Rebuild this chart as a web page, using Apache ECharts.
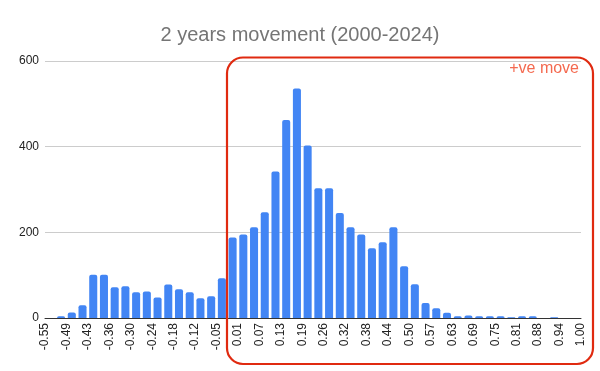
<!DOCTYPE html>
<html>
<head>
<meta charset="utf-8">
<script src="https://cdn.jsdelivr.net/npm/echarts@6/dist/echarts.min.js"></script>
<style>html,body{margin:0;padding:0;background:#fff}#c{width:600px;height:371px}</style>
</head>
<body>
<div id="c"></div>
<script>
// Histogram bin counts (50 bins from -0.55 to 1.00)
const binCounts = [0, 4, 13, 30, 101, 101, 72, 74, 60, 62,
  48, 78, 67, 60, 46, 51, 93, 188, 195, 212,
  247, 342, 462, 536, 403, 303, 303, 245, 212, 195,
  163, 177, 212, 121, 79, 35, 23, 12, 4, 6,
  4, 4, 4, 2, 4, 4, 0, 2, 0, 0];
// Tick labels at every second bin boundary
const tickLabels = ['-0.55','-0.49','-0.43','-0.36','-0.30','-0.24','-0.18','-0.12','-0.05',
  '0.01','0.07','0.13','0.19','0.26','0.32','0.38','0.44','0.50','0.57','0.63','0.69',
  '0.75','0.81','0.88','0.94','1.00'];
const yTicks = [0, 200, 400, 600];
const titleText = '2 years movement (2000-2024)';
const noteText = '+ve move';

const binCats = binCounts.map((_, i) => 'bin' + i);
const boundaryCats = [];
tickLabels.forEach((t, i) => {
  boundaryCats.push(t);
  if (i < tickLabels.length - 1) boundaryCats.push('');
});

const chart = echarts.init(document.getElementById('c'), null, {renderer: 'canvas'});
chart.setOption({
  animation: false,
  backgroundColor: '#fff',
  title: {
    text: titleText, left: 'center', top: 20,
    textStyle: {fontFamily: 'Liberation Sans', fontSize: 20, fontWeight: 'normal', color: '#757575'}
  },
  grid: {left: 45, right: 19, top: 61, bottom: 53},
  xAxis: [{
    type: 'category', data: binCats,
    axisLine: {show: true, lineStyle: {color: '#333', width: 1}},
    axisTick: {show: false}, axisLabel: {show: false}
  }, {
    type: 'category', data: boundaryCats, boundaryGap: false, position: 'bottom',
    axisLine: {show: false}, axisTick: {show: false},
    axisLabel: {
      interval: 1, rotate: 90, margin: 5,
      fontFamily: 'Liberation Sans', fontSize: 12, color: '#222'
    }
  }],
  yAxis: {
    type: 'value', min: yTicks[0], max: yTicks[yTicks.length - 1], interval: 200,
    axisLine: {show: false}, axisTick: {show: false},
    axisLabel: {fontFamily: 'Liberation Sans', fontSize: 12, color: '#222', margin: 6},
    splitLine: {lineStyle: {color: '#cccccc', width: 1}}
  },
  series: [{
    type: 'bar', data: binCounts, xAxisIndex: 0,
    barCategoryGap: '25%',
    itemStyle: {color: '#4285f4', borderRadius: [2, 2, 0, 0]}
  }],
  graphic: [{
    type: 'rect', z: 100,
    shape: {x: 227, y: 57.5, width: 366, height: 306.5, r: 16},
    style: {fill: 'none', stroke: '#e02a10', lineWidth: 2.2}
  }, {
    type: 'text', z: 100, right: 21, top: 61,
    style: {text: noteText, fill: '#f4694f', font: '16px "Liberation Sans"'}
  }]
});
</script>
</body>
</html>
